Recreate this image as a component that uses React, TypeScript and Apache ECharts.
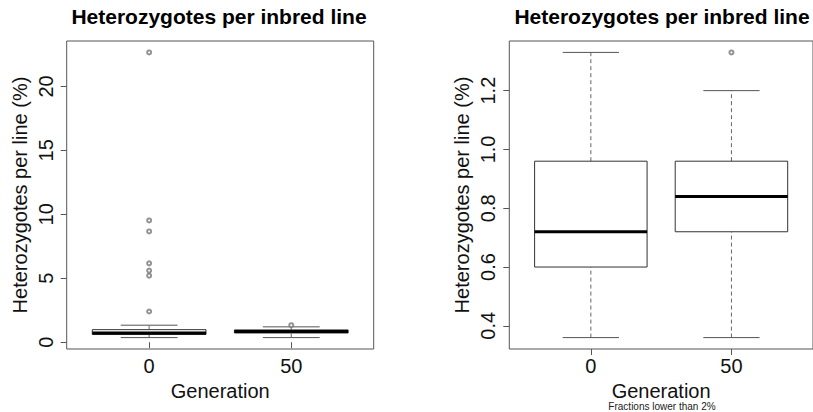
import React, { useEffect, useRef } from "react";
import * as echarts from "echarts";

// ---- data ----
const generations = ["0", "50"];
const genPositions = [1, 2];

// all inbred lines
const allLow = [0.36, 0.36];
const allQ1 = [0.6, 0.72];
const allMedian = [0.72, 0.84];
const allQ3 = [0.98, 0.96];
const allHigh = [1.33, 1.2];
const allOutliersGen0 = [22.66, 9.52, 8.66, 6.17, 5.6, 5.2, 2.4];
const allOutliersGen50 = [1.33];

// fractions lower than 2%
const lowLow = [0.36, 0.36];
const lowQ1 = [0.6, 0.72];
const lowMedian = [0.72, 0.84];
const lowQ3 = [0.96, 0.96];
const lowHigh = [1.33, 1.2];
const lowOutliersGen0: number[] = [];
const lowOutliersGen50 = [1.33];

const leftYTicks = [0, 5, 10, 15, 20];
const rightYTicks = [0.4, 0.6, 0.8, 1.0, 1.2];

const titleText = "Heterozygotes per inbred line";
const yName = "Heterozygotes per line (%)";
const xName = "Generation";
const subText = "Fractions lower than 2%";

const FONT = "'Liberation Sans', Arial, Helvetica, sans-serif";

function rRange(values: number[]) {
  const mn = Math.min(...values);
  const mx = Math.max(...values);
  const pad = (mx - mn) * 0.04;
  return [mn - pad, mx + pad];
}

function boxRows(lo: number[], q1: number[], md: number[], q3: number[], hi: number[]) {
  return genPositions.map((p, i) => [p, lo[i], q1[i], md[i], q3[i], hi[i]]);
}

function outlierRows(o0: number[], o50: number[]) {
  return [
    ...o0.map((v) => [genPositions[0], v]),
    ...o50.map((v) => [genPositions[1], v]),
  ];
}

function renderBox(_params: any, api: any) {
  const x = api.value(0);
  const lo = api.coord([x, api.value(1)]);
  const q1 = api.coord([x, api.value(2)]);
  const md = api.coord([x, api.value(3)]);
  const q3 = api.coord([x, api.value(4)]);
  const hi = api.coord([x, api.value(5)]);
  const bw = api.size([0.8, 0])[0];
  const cw = bw / 4;
  const cx = md[0];
  const dash = { stroke: "#666", lineWidth: 1, lineDash: [4, 3] };
  const cap = { stroke: "#555", lineWidth: 1 };
  return {
    type: "group",
    children: [
      { type: "line", shape: { x1: cx, y1: q3[1], x2: cx, y2: hi[1] }, style: dash },
      { type: "line", shape: { x1: cx, y1: lo[1], x2: cx, y2: q1[1] }, style: dash },
      { type: "line", shape: { x1: cx - cw, y1: hi[1], x2: cx + cw, y2: hi[1] }, style: cap },
      { type: "line", shape: { x1: cx - cw, y1: lo[1], x2: cx + cw, y2: lo[1] }, style: cap },
      {
        type: "rect",
        shape: { x: cx - bw / 2, y: q3[1], width: bw, height: q1[1] - q3[1] },
        style: { fill: "#fff", stroke: "#333", lineWidth: 1 },
      },
      {
        type: "line",
        shape: { x1: cx - bw / 2, y1: md[1], x2: cx + bw / 2, y2: md[1] },
        style: { stroke: "#000", lineWidth: 3 },
      },
    ],
  };
}

export default function App() {
  const ref = useRef<HTMLDivElement>(null);
  useEffect(() => {
    if (!ref.current) return;
    const chart = echarts.init(ref.current, undefined, { renderer: "svg" });

    const leftRange = rRange([...allLow, ...allHigh, ...allOutliersGen0, ...allOutliersGen50]);
    const rightRange = rRange([...lowLow, ...lowHigh, ...lowOutliersGen0, ...lowOutliersGen50]);

    const gridTop = 41;
    const gridH = 308;
    const gridW = 307;

    const xAxisBase = (gridIndex: number) => ({
      type: "value",
      gridIndex,
      min: 0.42,
      max: 2.58,
      name: xName,
      nameLocation: "middle",
      nameGap: 30,
      nameTextStyle: { fontSize: 20, lineHeight: 20, color: "#111", fontFamily: FONT },
      axisLine: { show: false },
      splitLine: { show: false },
      axisTick: { show: true, length: 6, customValues: genPositions, lineStyle: { color: "#555" } },
      axisLabel: {
        show: true,
        customValues: genPositions,
        formatter: (v: number) => generations[genPositions.indexOf(v)] ?? "",
        fontSize: 20,
        color: "#111",
        fontFamily: FONT,
        margin: 7,
      },
    });

    const yAxisBase = (gridIndex: number, range: number[], ticks: number[], dec: number) => ({
      type: "value",
      gridIndex,
      min: range[0],
      max: range[1],
      name: yName,
      nameLocation: "middle",
      nameGap: 37,
      nameTextStyle: { fontSize: 20, color: "#111", fontFamily: FONT },
      axisLine: { show: false },
      splitLine: { show: false },
      axisTick: { show: true, length: 6, customValues: ticks, lineStyle: { color: "#555" } },
      axisLabel: {
        show: true,
        customValues: ticks,
        rotate: 90,
        formatter: (v: number) => v.toFixed(dec),
        fontSize: 20,
        color: "#111",
        fontFamily: FONT,
        margin: 11,
      },
    });

    const titleStyle = { fontSize: 21, fontWeight: "bold", color: "#000", fontFamily: FONT };

    chart.setOption({
      animation: false,
      backgroundColor: "#fff",
      title: [
        { text: titleText, left: 219, top: 6, padding: 0, textAlign: "center", textStyle: titleStyle },
        { text: titleText, left: 662, top: 6, padding: 0, textAlign: "center", textStyle: titleStyle },
        {
          text: subText,
          left: 662,
          top: 401,
          padding: 0,
          textAlign: "center",
          textStyle: { fontSize: 10, lineHeight: 10, fontWeight: "normal", color: "#222", fontFamily: FONT },
        },
      ],
      grid: [
        {
          left: 66.7, top: gridTop, width: gridW, height: gridH,
          show: true, borderColor: "#555", borderWidth: 1, backgroundColor: "transparent",
        },
        {
          left: 509.3, top: gridTop, width: gridW, height: gridH,
          show: true, borderColor: "#555", borderWidth: 1, backgroundColor: "transparent",
        },
      ],
      xAxis: [xAxisBase(0), xAxisBase(1)],
      yAxis: [
        yAxisBase(0, leftRange, leftYTicks, 0),
        yAxisBase(1, rightRange, rightYTicks, 1),
      ],
      series: [
        {
          type: "custom",
          xAxisIndex: 0,
          yAxisIndex: 0,
          renderItem: renderBox,
          encode: { x: 0, y: [1, 2, 3, 4, 5] },
          data: boxRows(allLow, allQ1, allMedian, allQ3, allHigh),
          silent: true,
        },
        {
          type: "scatter",
          xAxisIndex: 0,
          yAxisIndex: 0,
          symbol: "emptyCircle",
          symbolSize: 4,
          itemStyle: { color: "#777", borderWidth: 0.8 },
          data: outlierRows(allOutliersGen0, allOutliersGen50),
          silent: true,
          z: 5,
        },
        {
          type: "custom",
          xAxisIndex: 1,
          yAxisIndex: 1,
          renderItem: renderBox,
          encode: { x: 0, y: [1, 2, 3, 4, 5] },
          data: boxRows(lowLow, lowQ1, lowMedian, lowQ3, lowHigh),
          silent: true,
        },
        {
          type: "scatter",
          xAxisIndex: 1,
          yAxisIndex: 1,
          symbol: "emptyCircle",
          symbolSize: 4,
          itemStyle: { color: "#777", borderWidth: 0.8 },
          data: outlierRows(lowOutliersGen0, lowOutliersGen50),
          silent: true,
          z: 5,
        },
      ],
    });
    return () => chart.dispose();
  }, []);
  return (
    <div
      ref={ref}
      style={{ position: "absolute", left: 0, top: 0, width: 813, height: 412, background: "#fff" }}
    />
  );
}
